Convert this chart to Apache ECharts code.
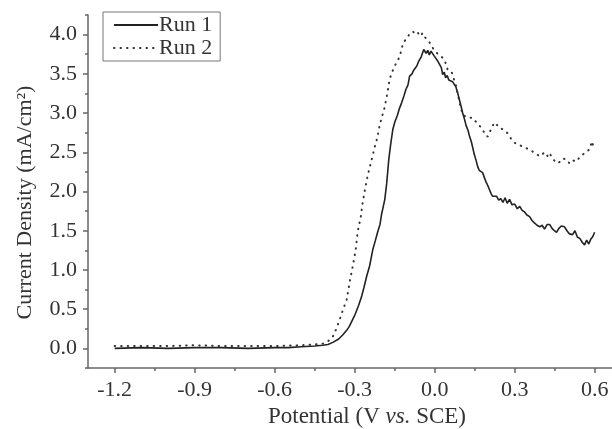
<!DOCTYPE html>
<html>
<head>
<meta charset="utf-8">
<script src="https://cdn.jsdelivr.net/npm/echarts@6/dist/echarts.min.js"></script>
<style>
  html, body { margin: 0; padding: 0; background: #fff; }
  #chart { width: 612px; height: 429px; }
</style>
</head>
<body>
<div id="chart"></div>
<script>
// potential (V vs SCE) and current density (mA/cm2)
var run1Potential = [-1.2, -1.1, -1.0, -0.9, -0.8, -0.7, -0.6, -0.55, -0.5, -0.45, -0.42, -0.40, -0.38, -0.36, -0.345, -0.33, -0.32, -0.30, -0.285, -0.274, -0.265, -0.255, -0.244, -0.232, -0.222, -0.214, -0.205, -0.199, -0.192, -0.187, -0.18, -0.172, -0.165, -0.157, -0.15, -0.14, -0.132, -0.124, -0.115, -0.108, -0.1, -0.094, -0.085, -0.078, -0.072, -0.067, -0.06, -0.056, -0.05, -0.045, -0.041, -0.037, -0.032, -0.026, -0.02, -0.014, -0.007, 0.0, 0.006, 0.012, 0.019, 0.025, 0.03, 0.036, 0.041, 0.047, 0.053, 0.06, 0.067, 0.073, 0.08, 0.086, 0.092, 0.098, 0.105, 0.112, 0.118, 0.125, 0.131, 0.137, 0.142, 0.148, 0.155, 0.161, 0.167, 0.174, 0.18, 0.186, 0.193, 0.2, 0.206, 0.212, 0.217, 0.224, 0.232, 0.24, 0.248, 0.256, 0.264, 0.272, 0.281, 0.29, 0.3, 0.31, 0.319, 0.328, 0.337, 0.346, 0.356, 0.365, 0.374, 0.384, 0.394, 0.403, 0.412, 0.422, 0.431, 0.44, 0.449, 0.457, 0.466, 0.475, 0.487, 0.496, 0.505, 0.517, 0.526, 0.535, 0.545, 0.554, 0.562, 0.57, 0.578, 0.585, 0.592, 0.6];
var run1Current = [0.00, 0.01, 0.00, 0.01, 0.01, 0.00, 0.01, 0.01, 0.02, 0.03, 0.04, 0.05, 0.08, 0.12, 0.17, 0.23, 0.28, 0.42, 0.55, 0.66, 0.78, 0.92, 1.05, 1.26, 1.38, 1.48, 1.58, 1.71, 1.82, 1.90, 2.10, 2.41, 2.60, 2.79, 2.88, 2.97, 3.06, 3.13, 3.22, 3.30, 3.36, 3.47, 3.50, 3.55, 3.53, 3.60, 3.66, 3.64, 3.72, 3.70, 3.81, 3.83, 3.76, 3.80, 3.74, 3.79, 3.77, 3.72, 3.74, 3.66, 3.64, 3.58, 3.49, 3.52, 3.45, 3.48, 3.42, 3.44, 3.40, 3.38, 3.33, 3.26, 3.18, 3.10, 3.00, 2.92, 2.84, 2.78, 2.70, 2.64, 2.57, 2.48, 2.40, 2.32, 2.27, 2.25, 2.24, 2.18, 2.12, 2.07, 2.02, 1.97, 1.94, 1.92, 1.94, 1.89, 1.91, 1.86, 1.92, 1.85, 1.90, 1.83, 1.84, 1.78, 1.81, 1.76, 1.74, 1.70, 1.68, 1.63, 1.60, 1.57, 1.55, 1.57, 1.52, 1.58, 1.58, 1.53, 1.50, 1.48, 1.53, 1.56, 1.55, 1.50, 1.46, 1.45, 1.50, 1.42, 1.40, 1.35, 1.32, 1.38, 1.33, 1.39, 1.42, 1.48];

var run2Potential = [-1.2, -1.1, -1.0, -0.9, -0.8, -0.7, -0.6, -0.5, -0.45, -0.42, -0.405, -0.393, -0.382, -0.37, -0.356, -0.343, -0.33, -0.319, -0.307, -0.296, -0.289, -0.277, -0.27, -0.26, -0.25, -0.236, -0.226, -0.214, -0.206, -0.197, -0.187, -0.178, -0.169, -0.16, -0.15, -0.14, -0.131, -0.12, -0.112, -0.105, -0.095, -0.082, -0.073, -0.064, -0.055, -0.045, -0.037, -0.03, -0.019, -0.005, 0.01, 0.025, 0.037, 0.049, 0.064, 0.08, 0.092, 0.105, 0.118, 0.131, 0.142, 0.157, 0.168, 0.18, 0.19, 0.199, 0.206, 0.214, 0.225, 0.232, 0.244, 0.251, 0.262, 0.274, 0.289, 0.3, 0.315, 0.33, 0.345, 0.358, 0.367, 0.38, 0.394, 0.405, 0.415, 0.424, 0.431, 0.44, 0.45, 0.461, 0.47, 0.48, 0.495, 0.505, 0.517, 0.53, 0.545, 0.555, 0.566, 0.575, 0.583, 0.589, 0.595, 0.6];
var run2Current = [0.03, 0.03, 0.03, 0.04, 0.03, 0.03, 0.03, 0.04, 0.05, 0.06, 0.08, 0.11, 0.15, 0.24, 0.37, 0.50, 0.62, 0.84, 1.05, 1.26, 1.48, 1.68, 1.86, 2.05, 2.22, 2.41, 2.55, 2.70, 2.85, 2.96, 3.08, 3.24, 3.43, 3.52, 3.60, 3.66, 3.72, 3.87, 3.92, 3.96, 4.00, 4.04, 4.01, 4.03, 3.98, 4.02, 3.97, 3.94, 3.90, 3.82, 3.76, 3.72, 3.68, 3.55, 3.52, 3.35, 3.15, 2.98, 2.95, 2.94, 2.94, 2.88, 2.84, 2.79, 2.72, 2.70, 2.75, 2.82, 2.88, 2.85, 2.83, 2.80, 2.78, 2.74, 2.66, 2.62, 2.60, 2.57, 2.55, 2.53, 2.51, 2.48, 2.45, 2.48, 2.50, 2.45, 2.49, 2.43, 2.39, 2.36, 2.38, 2.42, 2.41, 2.36, 2.40, 2.38, 2.44, 2.47, 2.50, 2.52, 2.55, 2.64, 2.58, 2.60];

var xMajor = [-1.2, -0.9, -0.6, -0.3, 0.0, 0.3, 0.6];
var xMinor = [-1.05, -0.75, -0.45, -0.15, 0.15, 0.45];
var yMajor = [0.0, 0.5, 1.0, 1.5, 2.0, 2.5, 3.0, 3.5, 4.0];
var yMinor = [-0.25, 0.25, 0.75, 1.25, 1.75, 2.25, 2.75, 3.25, 3.75, 4.25];

function pairs(xs, ys) {
  return xs.map(function (x, i) { return [x, ys[i]]; });
}

var font = 'Liberation Serif';
var axisColor = '#666';
var textColor = '#333';

var chart = echarts.init(document.getElementById('chart'));

var option = {
  animation: false,
  backgroundColor: '#fff',
  grid: { left: 88, right: 0, top: 15, bottom: 61, outerBoundsMode: 'none', containLabel: false },
  legend: {
    left: 103,
    top: 12,
    orient: 'vertical',
    itemWidth: 44,
    itemHeight: 14,
    itemGap: 1,
    padding: [2, 8, 2, 10],
    borderColor: '#777',
    borderWidth: 1,
    itemStyle: { opacity: 0 },
    textStyle: { fontFamily: font, fontSize: 22, color: textColor, padding: [0, 0, 0, -4] },
    data: ['Run 1', 'Run 2']
  },
  xAxis: [{
    type: 'value',
    min: -1.3,
    max: 0.665,
    name: 'Potential (V {i|vs.} SCE)',
    nameLocation: 'middle',
    nameGap: 35,
    nameTextStyle: {
      fontFamily: font, fontSize: 23, color: textColor, padding: [0, 0, 0, 34],
      rich: { i: { fontFamily: font, fontSize: 23, fontStyle: 'italic', color: textColor } }
    },
    axisLine: { onZero: false, lineStyle: { color: axisColor, width: 1.5 } },
    axisTick: { customValues: xMajor, length: 5, lineStyle: { color: axisColor, width: 1.5 } },
    axisLabel: {
      customValues: xMajor, margin: 11, fontFamily: font, fontSize: 22, color: textColor,
      formatter: function (v) { return v.toFixed(1); }
    },
    splitLine: { show: false }
  }, {
    type: 'value',
    position: 'bottom',
    min: -1.3,
    max: 0.665,
    axisLine: { show: false, onZero: false },
    axisTick: { customValues: xMinor, length: 3, lineStyle: { color: axisColor, width: 1.5 } },
    axisLabel: { show: false },
    splitLine: { show: false }
  }],
  yAxis: [{
    type: 'value',
    min: -0.25,
    max: 4.25,
    name: 'Current Density (mA/cm²)',
    nameLocation: 'middle',
    nameGap: 52,
    nameTextStyle: { fontFamily: font, fontSize: 22, color: textColor, padding: [0, 22, 0, 0] },
    axisLine: { show: true, onZero: false, lineStyle: { color: axisColor, width: 1.5 } },
    axisTick: { show: true, customValues: yMajor, length: 5, lineStyle: { color: axisColor, width: 1.5 } },
    axisLabel: {
      customValues: yMajor, margin: 11, fontFamily: font, fontSize: 22, color: textColor,
      formatter: function (v) { return v.toFixed(1); }
    },
    splitLine: { show: false }
  }, {
    type: 'value',
    position: 'left',
    min: -0.25,
    max: 4.25,
    axisLine: { show: false, onZero: false },
    axisTick: { show: true, customValues: yMinor, length: 3, lineStyle: { color: axisColor, width: 1.5 } },
    axisLabel: { show: false },
    splitLine: { show: false }
  }],
  series: [{
    name: 'Run 1',
    type: 'line',
    showSymbol: false,
    symbol: 'none',
    data: pairs(run1Potential, run1Current),
    lineStyle: { color: '#222', width: 1.6 },
    itemStyle: { color: '#222' }
  }, {
    name: 'Run 2',
    type: 'line',
    showSymbol: false,
    symbol: 'none',
    data: pairs(run2Potential, run2Current),
    lineStyle: { color: '#333', width: 2, type: [0.5, 6], cap: 'round' },
    itemStyle: { color: '#333' }
  }]
};

chart.setOption(option);
</script>
</body>
</html>
